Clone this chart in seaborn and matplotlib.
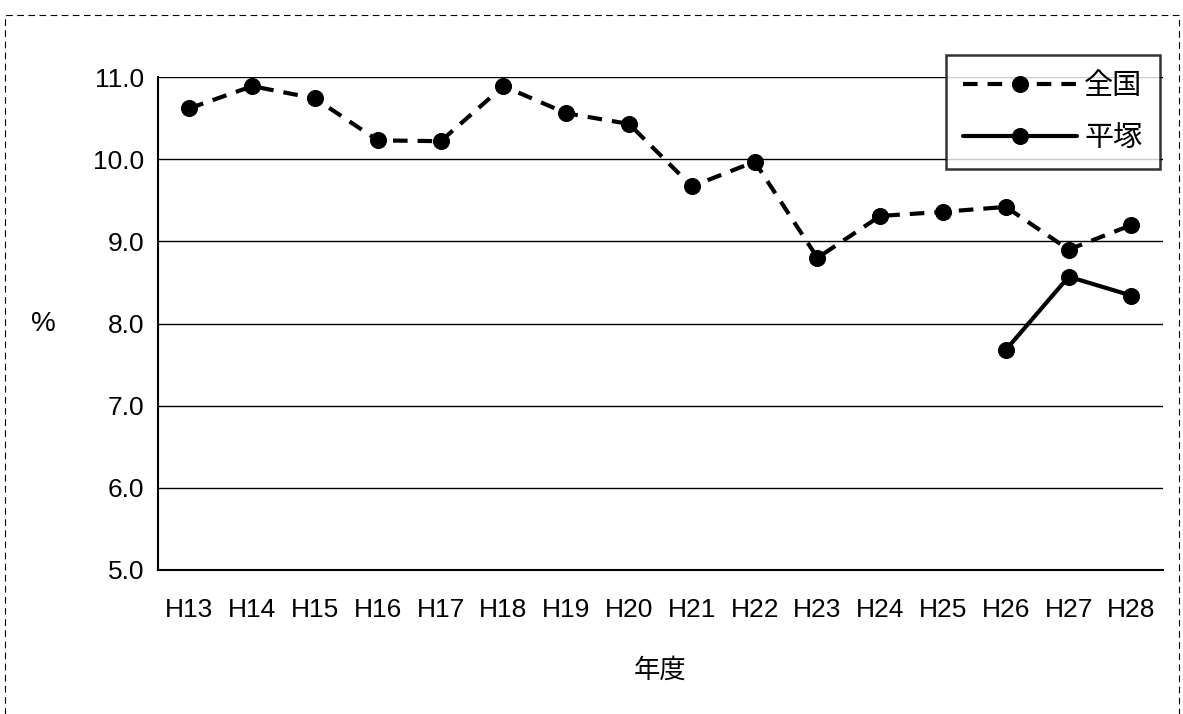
import numpy as np
import pandas as pd
import matplotlib
matplotlib.use("Agg")
import matplotlib.pyplot as plt
import seaborn as sns
from matplotlib.patches import Rectangle

# data
years = ["H13", "H14", "H15", "H16", "H17", "H18", "H19", "H20",
         "H21", "H22", "H23", "H24", "H25", "H26", "H27", "H28"]
zenkoku = [10.62, 10.89, 10.74, 10.23, 10.22, 10.89, 10.56, 10.43,
           9.67, 9.97, 8.80, 9.31, 9.36, 9.42, 8.90, 9.20]
hiratsuka_years = ["H26", "H27", "H28"]
hiratsuka = [7.68, 8.57, 8.34]

sns.set_theme(style="white")
plt.rcParams['font.family'] = ['Liberation Sans', 'Noto Sans CJK JP', 'DejaVu Sans']
plt.rcParams.update({"text.color": "black", "axes.labelcolor": "black",
                     "xtick.color": "black", "ytick.color": "black"})

df_z = pd.DataFrame({"x": [years.index(y) for y in years], "v": zenkoku})
df_h = pd.DataFrame({"x": [years.index(y) for y in hiratsuka_years], "v": hiratsuka})

fig = plt.figure(figsize=(11.83, 7.14), dpi=100)
ax = fig.add_axes([0.1336, 0.2017, 0.983 - 0.1336, 0.892 - 0.2017])

sns.lineplot(data=df_z, x="x", y="v", ax=ax, color="black", linewidth=3,
             marker="o", markersize=11.5, markeredgecolor="black",
             dashes=False, label="全国")
ax.lines[-1].set_dashes([3.5, 2.4])
sns.lineplot(data=df_h, x="x", y="v", ax=ax, color="black", linewidth=3,
             marker="o", markersize=11.5, markeredgecolor="black", label="平塚")

ax.set_xlim(-0.5, len(years) - 0.5)
ax.set_ylim(5.0, 11.0)
ax.set_yticks(np.arange(5.0, 11.01, 1.0))
ax.set_yticklabels([f"{v:.1f}" for v in np.arange(5.0, 11.01, 1.0)], fontsize=19)
ax.set_xticks(range(len(years)))
ax.set_xticklabels(years, fontsize=19)
ax.set_xticks(np.arange(-0.5, len(years), 1.0), minor=True)
ax.tick_params(axis="x", which="major", length=0, pad=20)
ax.tick_params(axis="x", which="minor", direction="in", length=7, color="black", width=1)
ax.tick_params(axis="y", length=0, pad=10)

ax.yaxis.grid(True, color="black", linewidth=1)
ax.xaxis.grid(False)
for s in ["top", "right"]:
    ax.spines[s].set_visible(False)
for s in ["left", "bottom"]:
    ax.spines[s].set_color("black")
    ax.spines[s].set_linewidth(1.5)

ax.set_xlabel("年度", fontsize=19, labelpad=26)
ax.set_ylabel("%", fontsize=20, rotation=0, labelpad=36, va="center")

leg = ax.legend(loc="upper right", bbox_to_anchor=(0.997, 1.045), fontsize=21,
                frameon=True, fancybox=False, edgecolor="black",
                handlelength=3.9, labelspacing=0.8, borderpad=0.6,
                handletextpad=0.25, borderaxespad=0.0)
leg.get_frame().set_linewidth(1.8)

# outer dashed chart border
fig.patches.append(Rectangle((0.004, -0.02), 0.993, 0.999, transform=fig.transFigure,
                             fill=False, edgecolor="black", linewidth=0.8,
                             linestyle=(0, (6, 4))))

fig.savefig("out.png", dpi=100)
